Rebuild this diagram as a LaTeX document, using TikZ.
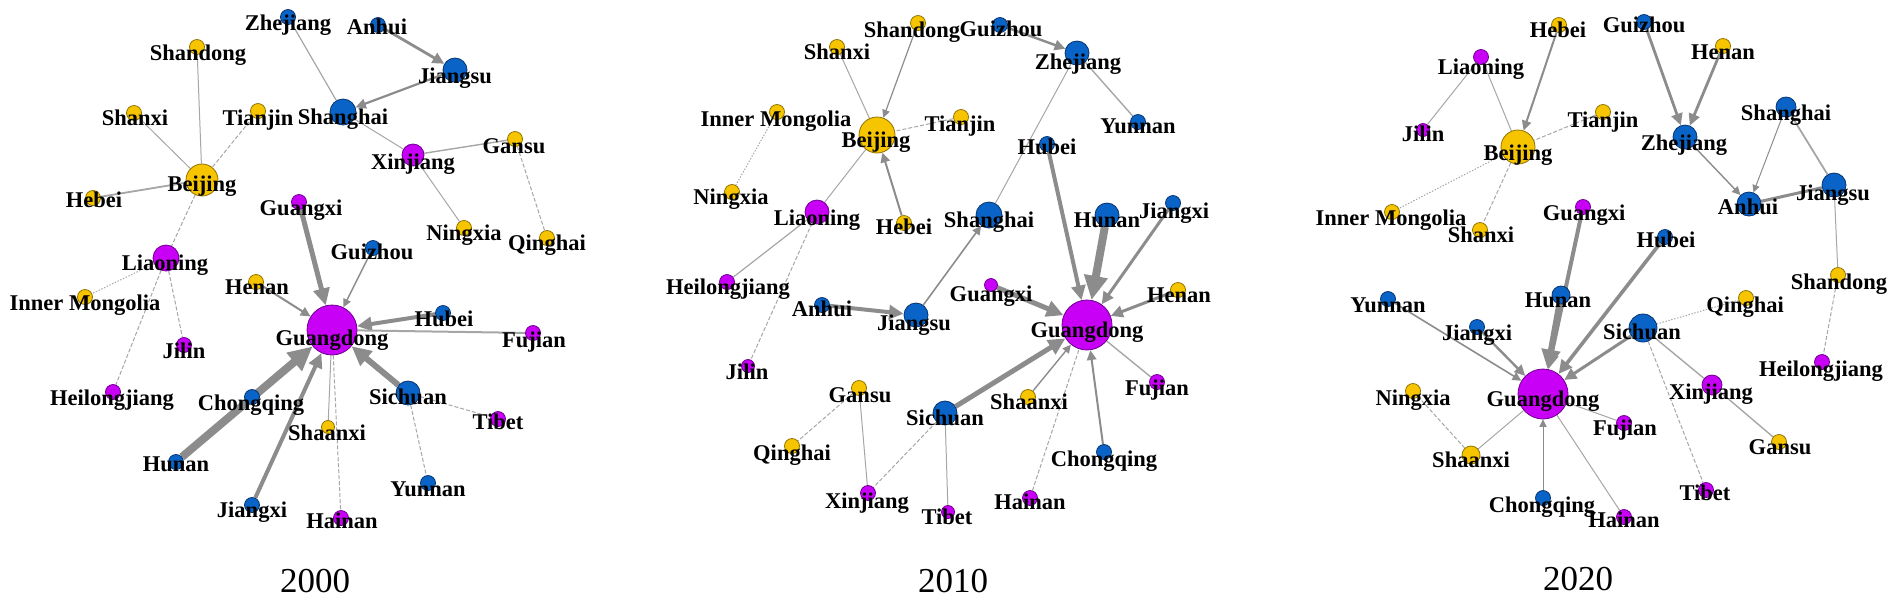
\documentclass[tikz,border=0pt]{standalone}
\usepackage{fontspec}
\setmainfont{Liberation Serif}
\usetikzlibrary{arrows.meta}
\definecolor{cgold}{HTML}{F6C500}
\definecolor{cgoldd}{HTML}{8F7200}
\definecolor{cblue}{HTML}{0A64C8}
\definecolor{cblued}{HTML}{06336E}
\definecolor{cpurp}{HTML}{C800F5}
\definecolor{cpurpd}{HTML}{6E0090}
\definecolor{egray}{HTML}{8C8C8C}
\definecolor{lgray}{HTML}{A6A6A6}
\pgfdeclarelayer{bg}
\pgfsetlayers{bg,main}
\tikzset{
  gd/.style={circle, fill=cgold, draw=cgoldd, line width=0.4pt, inner sep=0pt},
  bl/.style={circle, fill=cblue, draw=cblued, line width=0.4pt, inner sep=0pt},
  pu/.style={circle, fill=cpurp, draw=cpurpd, line width=0.4pt, inner sep=0pt},
  lbl/.style={font=\fontsize{11.25}{13}\selectfont\bfseries, anchor=base, inner sep=0pt, text=black},
  yr/.style={font=\fontsize{17.5}{20}\selectfont, anchor=base, inner sep=0pt, text=black},
  ln/.style={draw=lgray, line width=#1},
  ar/.style={draw=egray, line width=#1, -{Triangle[length=2.5pt 2.4, width=2.5pt 2.2]}},
  dsh/.style={dash pattern=on 2pt off 1pt},
  dtt/.style={dash pattern=on 0.7pt off 0.8pt},
}
\newcommand\pd[5]{\node[#4, minimum size=#5pt] (#1) at (#2,#3) {};}
\newcommand\pl[4]{\node[lbl] (#1-t) at (#2,#3+7) {#4};}
\begin{document}
\begin{tikzpicture}[x=0.5pt,y=-0.5pt]
\useasboundingbox (0,0) rectangle (1902,602);
% ---------------- 2000 ----------------
\pd{A-Zhejiang}{288}{17}{bl}{7.5}
\pd{A-Anhui}{378}{25}{bl}{7.5}
\pd{A-Jiangsu}{455}{70}{bl}{12}
\pd{A-Shandong}{197}{47}{gd}{7.5}
\pd{A-Shanghai}{343}{112}{bl}{13}
\pd{A-Shanxi}{134}{113}{gd}{7.5}
\pd{A-Tianjin}{258}{111}{gd}{7.5}
\pd{A-Xinjiang}{413}{155}{pu}{11}
\pd{A-Gansu}{515}{139}{gd}{7.5}
\pd{A-Beijing}{202}{180}{gd}{16}
\pd{A-Hebei}{93}{198}{gd}{7.5}
\pd{A-Guangxi}{299}{202}{pu}{7.5}
\pd{A-Ningxia}{464}{228}{gd}{7.5}
\pd{A-Qinghai}{547}{238}{gd}{7.5}
\pd{A-Guizhou}{373}{248}{bl}{7.5}
\pd{A-Liaoning}{166}{258}{pu}{13}
\pd{A-Henan}{256}{282}{gd}{7.5}
\pd{A-InnerMongolia}{85}{297}{gd}{7.5}
\pd{A-Hubei}{443}{313}{bl}{7.5}
\pd{A-Guangdong}{332}{330}{pu}{25}
\pd{A-Fujian}{533}{333}{pu}{7.5}
\pd{A-Jilin}{184}{345}{pu}{7.5}
\pd{A-Heilongjiang}{113}{392}{pu}{7.5}
\pd{A-Chongqing}{252}{397}{bl}{7.5}
\pd{A-Sichuan}{408}{393}{bl}{12}
\pd{A-Tibet}{498}{419}{pu}{7.5}
\pd{A-Shaanxi}{328}{427}{gd}{6.5}
\pd{A-Hunan}{176}{462}{bl}{7.5}
\pd{A-Yunnan}{428}{483}{bl}{7.5}
\pd{A-Jiangxi}{252}{505}{bl}{7.5}
\pd{A-Hainan}{341}{518}{pu}{7.5}
% ---------------- 2010 ----------------
\pd{B-Shandong}{918}{23}{gd}{7.5}
\pd{B-Guizhou}{1000}{25}{bl}{7.5}
\pd{B-Shanxi}{837}{47}{gd}{7.5}
\pd{B-Zhejiang}{1077}{53}{bl}{12}
\pd{B-InnerMongolia}{777}{112}{gd}{7.5}
\pd{B-Tianjin}{961}{117}{gd}{7.5}
\pd{B-Yunnan}{1138}{122}{bl}{7.5}
\pd{B-Beijing}{877}{135}{gd}{18}
\pd{B-Hubei}{1047}{144}{bl}{7.5}
\pd{B-Ningxia}{732}{192}{gd}{7.5}
\pd{B-Liaoning}{817}{212}{pu}{12}
\pd{B-Hebei}{904}{223}{gd}{7.5}
\pd{B-Shanghai}{989}{215}{bl}{13}
\pd{B-Hunan}{1107}{215}{bl}{12}
\pd{B-Jiangxi}{1173}{203}{bl}{7.5}
\pd{B-Heilongjiang}{727}{282}{pu}{7.5}
\pd{B-Guangxi}{991}{285}{pu}{6.5}
\pd{B-Henan}{1178}{290}{gd}{7.5}
\pd{B-Anhui}{822}{305}{bl}{7.5}
\pd{B-Jiangsu}{916}{315}{bl}{12}
\pd{B-Guangdong}{1087}{325}{pu}{25}
\pd{B-Jilin}{748}{366}{pu}{6.5}
\pd{B-Fujian}{1157}{382}{pu}{7.5}
\pd{B-Gansu}{859}{388}{gd}{7.5}
\pd{B-Shaanxi}{1028}{397}{gd}{7.5}
\pd{B-Sichuan}{945}{413}{bl}{12}
\pd{B-Qinghai}{792}{446}{gd}{7.5}
\pd{B-Chongqing}{1104}{452}{bl}{7.5}
\pd{B-Xinjiang}{868}{493}{pu}{7.5}
\pd{B-Hainan}{1030}{498}{pu}{7.5}
\pd{B-Tibet}{948}{512}{pu}{6.5}
% ---------------- 2020 ----------------
\pd{C-Guizhou}{1644}{22}{bl}{7.5}
\pd{C-Hebei}{1559}{25}{gd}{7.5}
\pd{C-Henan}{1723}{46}{gd}{7.5}
\pd{C-Liaoning}{1481}{57}{pu}{7.5}
\pd{C-Shanghai}{1786}{107}{bl}{10}
\pd{C-Tianjin}{1603}{112}{gd}{7.5}
\pd{C-Jilin}{1423}{130}{pu}{6.5}
\pd{C-Zhejiang}{1685}{137}{bl}{12}
\pd{C-Beijing}{1518}{147}{gd}{17}
\pd{C-Jiangsu}{1834}{185}{bl}{12}
\pd{C-Anhui}{1749}{204}{bl}{12}
\pd{C-Guangxi}{1583}{207}{pu}{7.5}
\pd{C-InnerMongolia}{1392}{212}{gd}{7.5}
\pd{C-Shanxi}{1480}{230}{gd}{7.5}
\pd{C-Hubei}{1665}{237}{bl}{7.5}
\pd{C-Shandong}{1838}{275}{gd}{7.5}
\pd{C-Hunan}{1561}{295}{bl}{9}
\pd{C-Qinghai}{1746}{298}{gd}{7.5}
\pd{C-Yunnan}{1388}{299}{bl}{7.5}
\pd{C-Jiangxi}{1477}{327}{bl}{7.5}
\pd{C-Sichuan}{1643}{328}{bl}{14}
\pd{C-Heilongjiang}{1822}{362}{pu}{7.5}
\pd{C-Xinjiang}{1712}{385}{pu}{10}
\pd{C-Ningxia}{1413}{391}{gd}{7.5}
\pd{C-Guangdong}{1543}{394}{pu}{25}
\pd{C-Fujian}{1624}{423}{pu}{7.5}
\pd{C-Gansu}{1779}{442}{gd}{7.5}
\pd{C-Shaanxi}{1471}{455}{gd}{9}
\pd{C-Tibet}{1706}{490}{pu}{7.5}
\pd{C-Chongqing}{1543}{498}{bl}{7.5}
\pd{C-Hainan}{1624}{517}{pu}{7.5}
% ---------------- edges ----------------
\begin{pgfonlayer}{bg}
% 2000
\draw[ln=0.5pt] (A-Shandong) -- (A-Beijing);
\draw[ln=0.5pt] (A-Shanxi) -- (A-Beijing);
\draw[ln=0.5pt, dsh] (A-Tianjin) -- (A-Beijing);
\draw[ln=0.9pt] (A-Hebei) -- (A-Beijing);
\draw[ln=0.5pt, dsh] (A-Beijing) -- (A-Liaoning);
\draw[ln=0.5pt, dtt] (A-Liaoning) -- (A-InnerMongolia);
\draw[ln=0.5pt, dsh] (A-Liaoning) -- (A-Heilongjiang);
\draw[ln=0.5pt, dsh] (A-Liaoning) -- (A-Jilin);
\draw[ln=0.6pt] (A-Zhejiang) -- (A-Shanghai);
\draw[ar=1.4pt] (A-Anhui) -- (A-Jiangsu);
\draw[ar=1.1pt] (A-Jiangsu) -- (A-Shanghai);
\draw[ln=0.5pt] (A-Shanghai) -- (A-Xinjiang);
\draw[ln=0.7pt] (A-Xinjiang) -- (A-Gansu);
\draw[ln=0.5pt] (A-Xinjiang) -- (A-Ningxia);
\draw[ln=0.5pt, dsh] (A-Gansu) -- (A-Qinghai);
\draw[ar=2.5pt] (A-Guangxi) -- (A-Guangdong);
\draw[ar=0.7pt] (A-Guizhou) -- (A-Guangdong);
\draw[ar=1pt] (A-Henan) -- (A-Guangdong);
\draw[ar=2pt] (A-Hubei) -- (A-Guangdong);
\draw[ln=1pt] (A-Fujian) -- (A-Guangdong);
\draw[ar=3pt] (A-Sichuan) -- (A-Guangdong);
\draw[ln=0.5pt, dsh] (A-Sichuan) -- (A-Tibet);
\draw[ln=0.5pt, dsh] (A-Sichuan) -- (A-Yunnan);
\draw[ln=0.5pt] (A-Guangdong) -- (A-Shaanxi);
\draw[ln=0.5pt, dsh] (A-Guangdong) -- (A-Hainan);
\draw[ar=4pt] (A-Hunan) -- (A-Guangdong);
\draw[ar=2pt] (A-Jiangxi) -- (A-Guangdong);
% 2010
\draw[ar=0.6pt] (B-Shandong) -- (B-Beijing);
\draw[ln=0.5pt] (B-Shanxi) -- (B-Beijing);
\draw[ln=0.5pt, dsh] (B-Tianjin) -- (B-Beijing);
\draw[ar=1pt] (B-Hebei) -- (B-Beijing);
\draw[ln=0.5pt] (B-Beijing) -- (B-Liaoning);
\draw[ln=0.5pt, dtt] (B-InnerMongolia) -- (B-Ningxia);
\draw[ln=0.6pt] (B-Liaoning) -- (B-Heilongjiang);
\draw[ln=0.5pt, dsh] (B-Liaoning) -- (B-Jilin);
\draw[ar=1.2pt] (B-Guizhou) -- (B-Zhejiang);
\draw[ln=0.7pt] (B-Zhejiang) -- (B-Yunnan);
\draw[ln=0.5pt] (B-Zhejiang) -- (B-Shanghai);
\draw[ar=0.8pt] (B-Jiangsu) -- (B-Shanghai);
\draw[ar=2pt] (B-Anhui) -- (B-Jiangsu);
\draw[ar=2pt] (B-Hubei) -- (B-Guangdong);
\draw[ar=4pt] (B-Hunan) -- (B-Guangdong);
\draw[ar=1.5pt] (B-Jiangxi) -- (B-Guangdong);
\draw[ar=1.5pt] (B-Henan) -- (B-Guangdong);
\draw[ar=2.5pt] (B-Guangxi) -- (B-Guangdong);
\draw[ar=2.5pt] (B-Sichuan) -- (B-Guangdong);
\draw[ar=0.7pt] (B-Shaanxi) -- (B-Guangdong);
\draw[ln=0.5pt, dsh] (B-Hainan) -- (B-Guangdong);
\draw[ar=1pt] (B-Chongqing) -- (B-Guangdong);
\draw[ln=0.7pt] (B-Fujian) -- (B-Guangdong);
\draw[ln=0.5pt, dsh] (B-Gansu) -- (B-Qinghai);
\draw[ln=0.5pt] (B-Gansu) -- (B-Xinjiang);
\draw[ln=0.5pt, dsh] (B-Sichuan) -- (B-Xinjiang);
\draw[ln=0.5pt] (B-Sichuan) -- (B-Tibet);
% 2020
\draw[ar=1pt] (C-Hebei) -- (C-Beijing);
\draw[ln=0.5pt] (C-Liaoning) -- (C-Beijing);
\draw[ln=0.5pt] (C-Liaoning) -- (C-Jilin);
\draw[ln=0.5pt, dsh] (C-Tianjin) -- (C-Beijing);
\draw[ln=0.5pt, dtt] (C-Beijing) -- (C-InnerMongolia);
\draw[ln=0.5pt, dsh] (C-Beijing) -- (C-Shanxi);
\draw[ar=1.4pt] (C-Guizhou) -- (C-Zhejiang);
\draw[ar=1.4pt] (C-Henan) -- (C-Zhejiang);
\draw[ar=0.7pt] (C-Zhejiang) -- (C-Anhui);
\draw[ar=0.5pt] (C-Shanghai) -- (C-Anhui);
\draw[ln=0.9pt] (C-Shanghai) -- (C-Jiangsu);
\draw[ln=1.5pt, draw=egray] (C-Jiangsu) -- (C-Anhui);
\draw[ln=0.5pt] (C-Jiangsu) -- (C-Shandong);
\draw[ln=0.5pt, dsh] (C-Shandong) -- (C-Heilongjiang);
\draw[ar=2pt] (C-Guangxi) -- (C-Guangdong);
\draw[ar=3pt] (C-Hunan) -- (C-Guangdong);
\draw[ar=1.8pt] (C-Hubei) -- (C-Guangdong);
\draw[ar=1.5pt] (C-Sichuan) -- (C-Guangdong);
\draw[ar=0.8pt] (C-Yunnan) -- (C-Guangdong);
\draw[ar=1.2pt] (C-Jiangxi) -- (C-Guangdong);
\draw[ln=0.5pt] (C-Guangdong) -- (C-Shaanxi);
\draw[ln=0.5pt, dsh] (C-Shaanxi) -- (C-Ningxia);
\draw[ar=0.5pt] (C-Chongqing) -- (C-Guangdong);
\draw[ln=0.5pt] (C-Guangdong) -- (C-Hainan);
\draw[ln=0.5pt] (C-Guangdong) -- (C-Fujian);
\draw[ln=0.5pt, dtt] (C-Sichuan) -- (C-Qinghai);
\draw[ln=0.7pt] (C-Sichuan) -- (C-Xinjiang);
\draw[ln=0.7pt] (C-Xinjiang) -- (C-Gansu);
\draw[ln=0.5pt, dsh] (C-Sichuan) -- (C-Tibet);
\end{pgfonlayer}
% ---------------- labels ----------------
\pl{A-Zhejiang}{288}{23}{Zhejiang}
\pl{A-Anhui}{377}{27}{Anhui}
\pl{A-Jiangsu}{455}{76}{Jiangsu}
\pl{A-Shandong}{198}{53}{Shandong}
\pl{A-Shanghai}{343}{117}{Shanghai}
\pl{A-Shanxi}{135}{118}{Shanxi}
\pl{A-Tianjin}{258}{118}{Tianjin}
\pl{A-Xinjiang}{413}{162}{Xinjiang}
\pl{A-Gansu}{514}{146}{Gansu}
\pl{A-Beijing}{202}{184}{Beijing}
\pl{A-Hebei}{94}{200}{Hebei}
\pl{A-Guangxi}{301}{208}{Guangxi}
\pl{A-Ningxia}{464}{233}{Ningxia}
\pl{A-Qinghai}{547}{243}{Qinghai}
\pl{A-Guizhou}{372}{252}{Guizhou}
\pl{A-Liaoning}{165}{263}{Liaoning}
\pl{A-Henan}{257}{287}{Henan}
\pl{A-InnerMongolia}{85}{303}{Inner Mongolia}
\pl{A-Hubei}{444}{319}{Hubei}
\pl{A-Guangdong}{332}{338}{Guangdong}
\pl{A-Fujian}{534}{340}{Fujian}
\pl{A-Jilin}{184}{351}{Jilin}
\pl{A-Heilongjiang}{112}{398}{Heilongjiang}
\pl{A-Chongqing}{251}{403}{Chongqing}
\pl{A-Sichuan}{408}{397}{Sichuan}
\pl{A-Tibet}{498}{422}{Tibet}
\pl{A-Shaanxi}{327}{433}{Shaanxi}
\pl{A-Hunan}{176}{464}{Hunan}
\pl{A-Yunnan}{428}{489}{Yunnan}
\pl{A-Jiangxi}{252}{510}{Jiangxi}
\pl{A-Hainan}{342}{521}{Hainan}
\pl{B-Shandong}{912}{30}{Shandong}
\pl{B-Guizhou}{1001}{29}{Guizhou}
\pl{B-Shanxi}{837}{52}{Shanxi}
\pl{B-Zhejiang}{1078}{62}{Zhejiang}
\pl{B-InnerMongolia}{776}{119}{Inner Mongolia}
\pl{B-Tianjin}{960}{124}{Tianjin}
\pl{B-Yunnan}{1138}{126}{Yunnan}
\pl{B-Beijing}{876}{140}{Beijing}
\pl{B-Hubei}{1047}{147}{Hubei}
\pl{B-Ningxia}{731}{197}{Ningxia}
\pl{B-Liaoning}{817}{218}{Liaoning}
\pl{B-Hebei}{904}{227}{Hebei}
\pl{B-Shanghai}{989}{220}{Shanghai}
\pl{B-Hunan}{1107}{220}{Hunan}
\pl{B-Jiangxi}{1174}{211}{Jiangxi}
\pl{B-Heilongjiang}{728}{287}{Heilongjiang}
\pl{B-Guangxi}{991}{294}{Guangxi}
\pl{B-Henan}{1179}{295}{Henan}
\pl{B-Anhui}{822}{309}{Anhui}
\pl{B-Jiangsu}{914}{323}{Jiangsu}
\pl{B-Guangdong}{1087}{330}{Guangdong}
\pl{B-Jilin}{747}{372}{Jilin}
\pl{B-Fujian}{1157}{388}{Fujian}
\pl{B-Gansu}{860}{395}{Gansu}
\pl{B-Shaanxi}{1029}{402}{Shaanxi}
\pl{B-Sichuan}{945}{418}{Sichuan}
\pl{B-Qinghai}{792}{453}{Qinghai}
\pl{B-Chongqing}{1104}{459}{Chongqing}
\pl{B-Xinjiang}{867}{501}{Xinjiang}
\pl{B-Hainan}{1030}{502}{Hainan}
\pl{B-Tibet}{947}{517}{Tibet}
\pl{C-Guizhou}{1644}{25}{Guizhou}
\pl{C-Hebei}{1558}{30}{Hebei}
\pl{C-Henan}{1723}{52}{Henan}
\pl{C-Liaoning}{1481}{67}{Liaoning}
\pl{C-Shanghai}{1786}{113}{Shanghai}
\pl{C-Tianjin}{1603}{120}{Tianjin}
\pl{C-Jilin}{1423}{134}{Jilin}
\pl{C-Zhejiang}{1684}{143}{Zhejiang}
\pl{C-Beijing}{1518}{153}{Beijing}
\pl{C-Jiangsu}{1833}{193}{Jiangsu}
\pl{C-Anhui}{1748}{207}{Anhui}
\pl{C-Guangxi}{1584}{213}{Guangxi}
\pl{C-InnerMongolia}{1391}{218}{Inner Mongolia}
\pl{C-Shanxi}{1481}{235}{Shanxi}
\pl{C-Hubei}{1666}{240}{Hubei}
\pl{C-Shandong}{1839}{282}{Shandong}
\pl{C-Hunan}{1558}{300}{Hunan}
\pl{C-Qinghai}{1745}{305}{Qinghai}
\pl{C-Yunnan}{1388}{305}{Yunnan}
\pl{C-Jiangxi}{1477}{333}{Jiangxi}
\pl{C-Sichuan}{1642}{332}{Sichuan}
\pl{C-Heilongjiang}{1821}{369}{Heilongjiang}
\pl{C-Xinjiang}{1711}{392}{Xinjiang}
\pl{C-Ningxia}{1413}{398}{Ningxia}
\pl{C-Guangdong}{1543}{399}{Guangdong}
\pl{C-Fujian}{1625}{428}{Fujian}
\pl{C-Gansu}{1780}{447}{Gansu}
\pl{C-Shaanxi}{1471}{460}{Shaanxi}
\pl{C-Tibet}{1705}{493}{Tibet}
\pl{C-Chongqing}{1542}{505}{Chongqing}
\pl{C-Hainan}{1624}{520}{Hainan}
% years
\node[yr] (y2000) at (315,592) {2000};
\node[yr] (y2010) at (953,592) {2010};
\node[yr] (y2020) at (1578,590) {2020};
\end{tikzpicture}
\end{document}
